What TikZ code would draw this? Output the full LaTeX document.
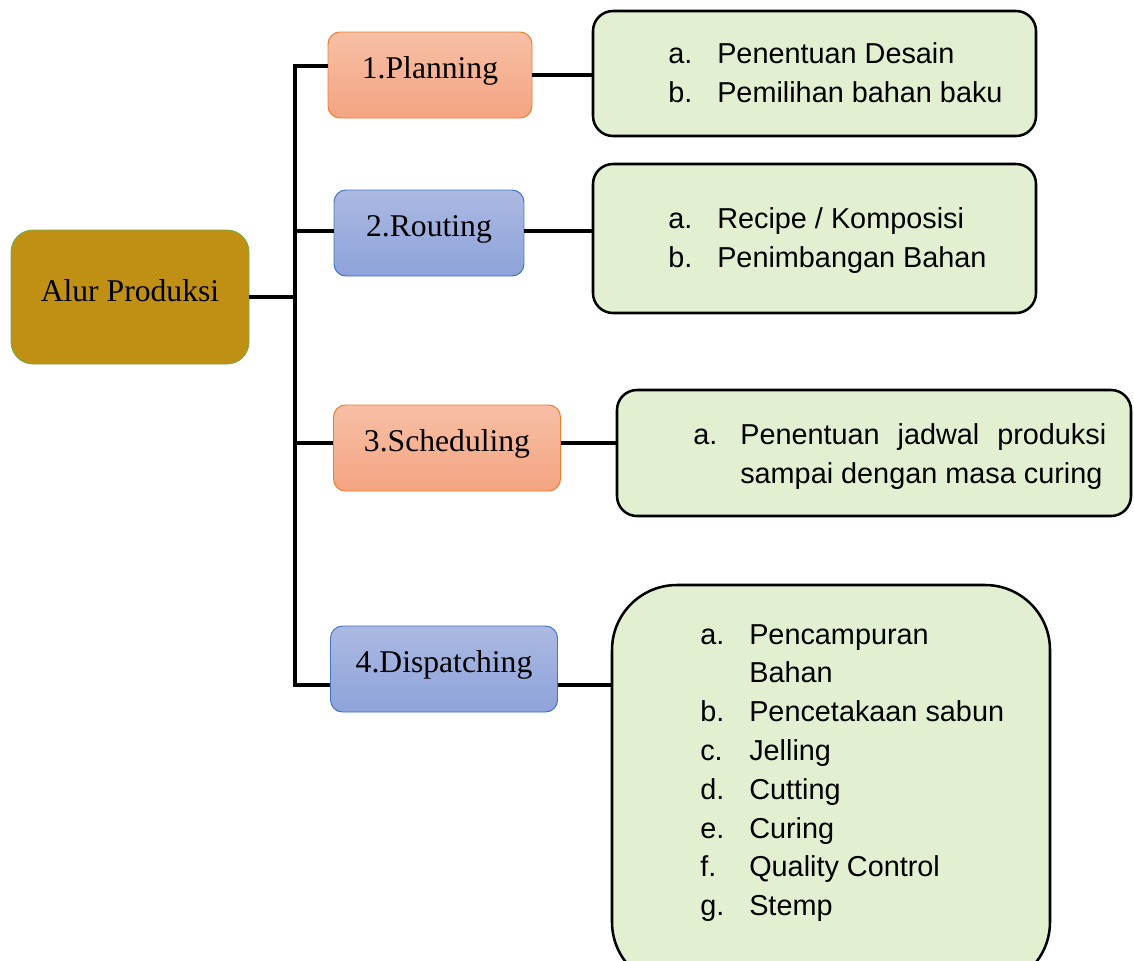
\documentclass[tikz,border=0pt]{standalone}
\usepackage{fontspec}
\setmainfont{Liberation Serif}
\newfontfamily\listfont{Liberation Sans}
\definecolor{mustard}{RGB}{191, 144, 20}
\definecolor{leaf}{RGB}{112, 173, 71}
\definecolor{peachtop}{RGB}{247, 191, 165}
\definecolor{peachbot}{RGB}{244, 164, 129}
\definecolor{carrot}{RGB}{237, 125, 49}
\definecolor{skytop}{RGB}{171, 185, 226}
\definecolor{skybot}{RGB}{142, 163, 218}
\definecolor{navy}{RGB}{68, 114, 196}
\definecolor{mint}{RGB}{226, 240, 209}
\newlength\pu
\setlength\pu{0.025cm}
\newcommand{\itm}[2]{\makebox[49\pu][l]{#1}#2}
\tikzset{
  stage/.style={rounded corners=12\pu, line width=0.7pt, minimum height=86\pu,
                font=\fontsize{22.5}{27}\selectfont, text height=15.5pt, text depth=10.5pt},
  orangebox/.style={stage, draw=carrot, top color=peachtop, bottom color=peachbot},
  bluebox/.style={stage, draw=navy, top color=skytop, bottom color=skybot},
  greenbox/.style={draw=black, fill=mint, line width=1.8pt, rounded corners=20\pu},
  items/.style={anchor=base west, inner sep=0pt, font=\listfont\fontsize{20.5}{28.3}\selectfont},
  link/.style={line width=3.4pt}
}
\begin{document}
\begin{tikzpicture}[x=\pu, y=-\pu]
    \useasboundingbox (0,0) rectangle (1134,961);
    % root
    \node[rounded corners=22\pu, fill=mustard, draw=leaf, line width=0.6pt, minimum width=238\pu, minimum height=134\pu,
          font=\fontsize{22.5}{27}\selectfont, text height=15pt, text depth=9pt] (alur) at (130,297) {Alur Produksi};
    % stages
    \node[orangebox, minimum width=204\pu] (plan)  at (430,75)  {1.Planning};
    \node[bluebox,   minimum width=190\pu] (rout)  at (429,233) {2.Routing};
    \node[orangebox, minimum width=227\pu] (sched) at (447,448) {3.Scheduling};
    \node[bluebox,   minimum width=227\pu] (disp)  at (444,669) {4.Dispatching};
    % detail boxes
    \node[greenbox, minimum width=443\pu, minimum height=125\pu] (plandet)  at (814.5,73.5) {};
    \node[greenbox, minimum width=443\pu, minimum height=149\pu] (routdet)  at (814.5,238.5) {};
    \node[greenbox, minimum width=514\pu, minimum height=126\pu] (scheddet) at (874,453) {};
    \node[greenbox, minimum width=438\pu, minimum height=402\pu, rounded corners=65\pu] (dispdet) at (831,786) {};
    \node[items] (plantxt) at (668,63) {\begin{tabular}[t]{@{}l@{}}
        \itm{a.}{Penentuan Desain}\\
        \itm{b.}{Pemilihan bahan baku}
      \end{tabular}};
    \node[items] (routtxt) at (668,228) {\begin{tabular}[t]{@{}l@{}}
        \itm{a.}{Recipe / Komposisi}\\
        \itm{b.}{Penimbangan Bahan}
      \end{tabular}};
    \node[items] (schedtxt) at (693,444) {\begin{tabular}[t]{@{}l@{}}
        \makebox[47\pu][l]{a.}\makebox[366\pu][s]{Penentuan jadwal produksi}\\
        \makebox[47\pu][l]{}sampai dengan masa curing
      \end{tabular}};
    \node[items, font=\listfont\fontsize{20.5}{27.6}\selectfont] (disptxt) at (700,644) {\begin{tabular}[t]{@{}l@{}}
        \itm{a.}{Pencampuran}\\
        \itm{}{Bahan}\\
        \itm{b.}{Pencetakaan sabun}\\
        \itm{c.}{Jelling}\\
        \itm{d.}{Cutting}\\
        \itm{e.}{Curing}\\
        \itm{f.}{Quality Control}\\
        \itm{g.}{Stemp}
      \end{tabular}};
    % connectors
    \coordinate (ttop) at (295,66);
    \coordinate (tbot) at (295,685);
    \draw[link] (plan.west |- ttop) -- (ttop) -- (tbot) -- (disp.west |- tbot);
    \draw[link] (alur.east) -- (alur.east -| ttop);
    \draw[link] ([yshift=2\pu]rout.west -| ttop) -- ([yshift=2\pu]rout.west);
    \draw[link] ([yshift=5\pu]sched.west -| ttop) -- ([yshift=5\pu]sched.west);
    \draw[link] (plan.east) -- (plan.east -| plandet.west);
    \draw[link] ([yshift=2\pu]rout.east) -- ([yshift=2\pu]rout.east -| routdet.west);
    \draw[link] ([yshift=5\pu]sched.east) -- ([yshift=5\pu]sched.east -| scheddet.west);
    \draw[link] (disp.east |- tbot) -- (dispdet.west |- tbot);
\end{tikzpicture}
\end{document}
